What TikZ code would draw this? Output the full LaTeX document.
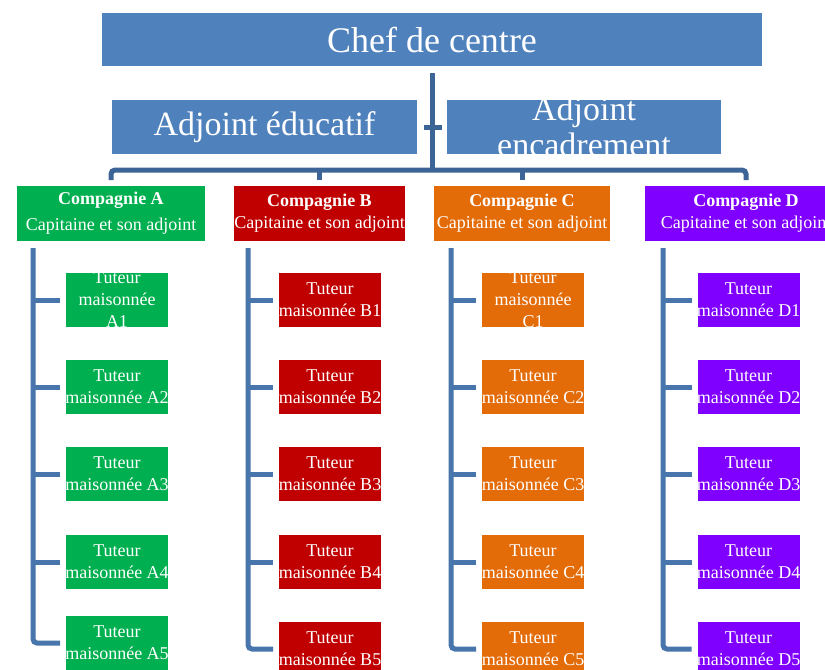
\documentclass[tikz,border=0pt]{standalone}
\usepackage{fontspec}
\setmainfont{Liberation Serif}

\definecolor{boxblue}{RGB}{79,129,189}
\definecolor{trunkblue}{RGB}{61,100,150}
\definecolor{linkblue}{RGB}{72,117,172}
\definecolor{compA}{RGB}{0,176,80}
\definecolor{compB}{RGB}{192,0,0}
\definecolor{compC}{RGB}{227,108,9}
\definecolor{compD}{RGB}{127,0,255}

\newcommand\tutfont{\fontsize{13.5}{16.5}\selectfont}
\newcommand\compfont{\fontsize{13.5}{16.5}\selectfont}
\newcommand\cheffont{\fontsize{27}{32}\selectfont}
\newcommand\adjfont{\fontsize{25.5}{27}\selectfont}

\tikzset{
  box/.style n args={3}{fill=#1, draw=none, inner sep=0pt, outer sep=0pt,
    path picture={\node[text=white, align=center, inner sep=0pt, font=#2]
      at (path picture bounding box.center) {#3};}},
  tuteur/.style 2 args={box={#1}{\tutfont}{#2}, minimum width=76.5pt, minimum height=40.5pt},
  compagnie/.style n args={3}{box={#1}{\compfont}{#3}, minimum width=#2, minimum height=41.25pt},
  trunk/.style={draw=trunkblue, line width=3.75pt},
  link/.style={draw=linkblue, line width=3.75pt},
}

\begin{document}
\begin{tikzpicture}[x=0.75pt, y=-0.75pt]
    \useasboundingbox (0,0) rectangle (825,669);
    \fill[white] (0,0) rectangle (825,669);
    \clip (0,0) rectangle (825,669);

    % direction
    \node (chef) at (432,39.5) [box={boxblue}{\cheffont}{Chef de centre}, minimum width=495pt, minimum height=39.75pt] {};
    \node (edu) at (264.5,127) [box={boxblue}{\adjfont}{Adjoint éducatif}, minimum width=228.75pt, minimum height=40.5pt] {};
    \node (enc) at (584,127) [box={boxblue}{\adjfont}{Adjoint\\encadrement}, minimum width=205.5pt, minimum height=40.5pt] {};

    % compagnies
    \node (cA) at (111,213.5) [compagnie={compA}{141pt}{\textbf{Compagnie A}\\[3pt]Capitaine et son adjoint}] {};
    \node (cB) at (319.5,213.5) [compagnie={compB}{128.25pt}{\textbf{Compagnie B}\\Capitaine et son adjoint}] {};
    \node (cC) at (522,213.5) [compagnie={compC}{132pt}{\textbf{Compagnie C}\\Capitaine et son adjoint}] {};
    \node (cD) at (746,213.5) [compagnie={compD}{151.5pt}{\textbf{Compagnie D}\\Capitaine et son adjoint}] {};

    % tuteurs
    \node (A1) at (117,300) [tuteur={compA}{Tuteur\\maisonnée\\A1}] {};
    \node (A2) at (117,387) [tuteur={compA}{Tuteur\\maisonnée A2}] {};
    \node (A3) at (117,474) [tuteur={compA}{Tuteur\\maisonnée A3}] {};
    \node (A4) at (117,562) [tuteur={compA}{Tuteur\\maisonnée A4}] {};
    \node (A5) at (117,643) [tuteur={compA}{Tuteur\\maisonnée A5}] {};

    \node (B1) at (330,300) [tuteur={compB}{Tuteur\\maisonnée B1}] {};
    \node (B2) at (330,387) [tuteur={compB}{Tuteur\\maisonnée B2}] {};
    \node (B3) at (330,474) [tuteur={compB}{Tuteur\\maisonnée B3}] {};
    \node (B4) at (330,562) [tuteur={compB}{Tuteur\\maisonnée B4}] {};
    \node (B5) at (330,649) [tuteur={compB}{Tuteur\\maisonnée B5}] {};

    \node (C1) at (533,300) [tuteur={compC}{Tuteur\\maisonnée\\C1}] {};
    \node (C2) at (533,387) [tuteur={compC}{Tuteur\\maisonnée C2}] {};
    \node (C3) at (533,474) [tuteur={compC}{Tuteur\\maisonnée C3}] {};
    \node (C4) at (533,562) [tuteur={compC}{Tuteur\\maisonnée C4}] {};
    \node (C5) at (533,649) [tuteur={compC}{Tuteur\\maisonnée C5}] {};

    \node (D1) at (748.5,300) [tuteur={compD}{Tuteur\\maisonnée D1}] {};
    \node (D2) at (748.5,387) [tuteur={compD}{Tuteur\\maisonnée D2}] {};
    \node (D3) at (748.5,474) [tuteur={compD}{Tuteur\\maisonnée D3}] {};
    \node (D4) at (748.5,562) [tuteur={compD}{Tuteur\\maisonnée D4}] {};
    \node (D5) at (748.5,649) [tuteur={compD}{Tuteur\\maisonnée D5}] {};

    % liaisons
    \coordinate (bar) at (432,170);
    \coordinate (tA) at (33,248);
    \coordinate (tB) at (248,248);
    \coordinate (tC) at (451,248);
    \coordinate (tD) at (663,248);

    \draw[trunk, shorten <=5.25pt] (chef.south) -- (bar);
    \draw[trunk] ([xshift=5.25pt]edu.east) -- ([xshift=-3.75pt]enc.west);
    \draw[trunk, rounded corners=3pt] ([yshift=4.5pt]cA.north) |- (bar) -| ([yshift=4.5pt]cD.north);
    \draw[trunk] ([yshift=4.5pt]cB.north) -- (cB.north |- bar);
    \draw[trunk] ([yshift=4.5pt]cC.north) -- (cC.north |- bar);

    \foreach \c in {A,B,C,D} {
        \draw[link, rounded corners=3pt] (t\c) |- ([xshift=-4.5pt]\c5.west);
        \foreach \i in {1,...,4}
            \draw[link] (t\c |- \c\i) -- ([xshift=-4.5pt]\c\i.west);
    }
\end{tikzpicture}
\end{document}
